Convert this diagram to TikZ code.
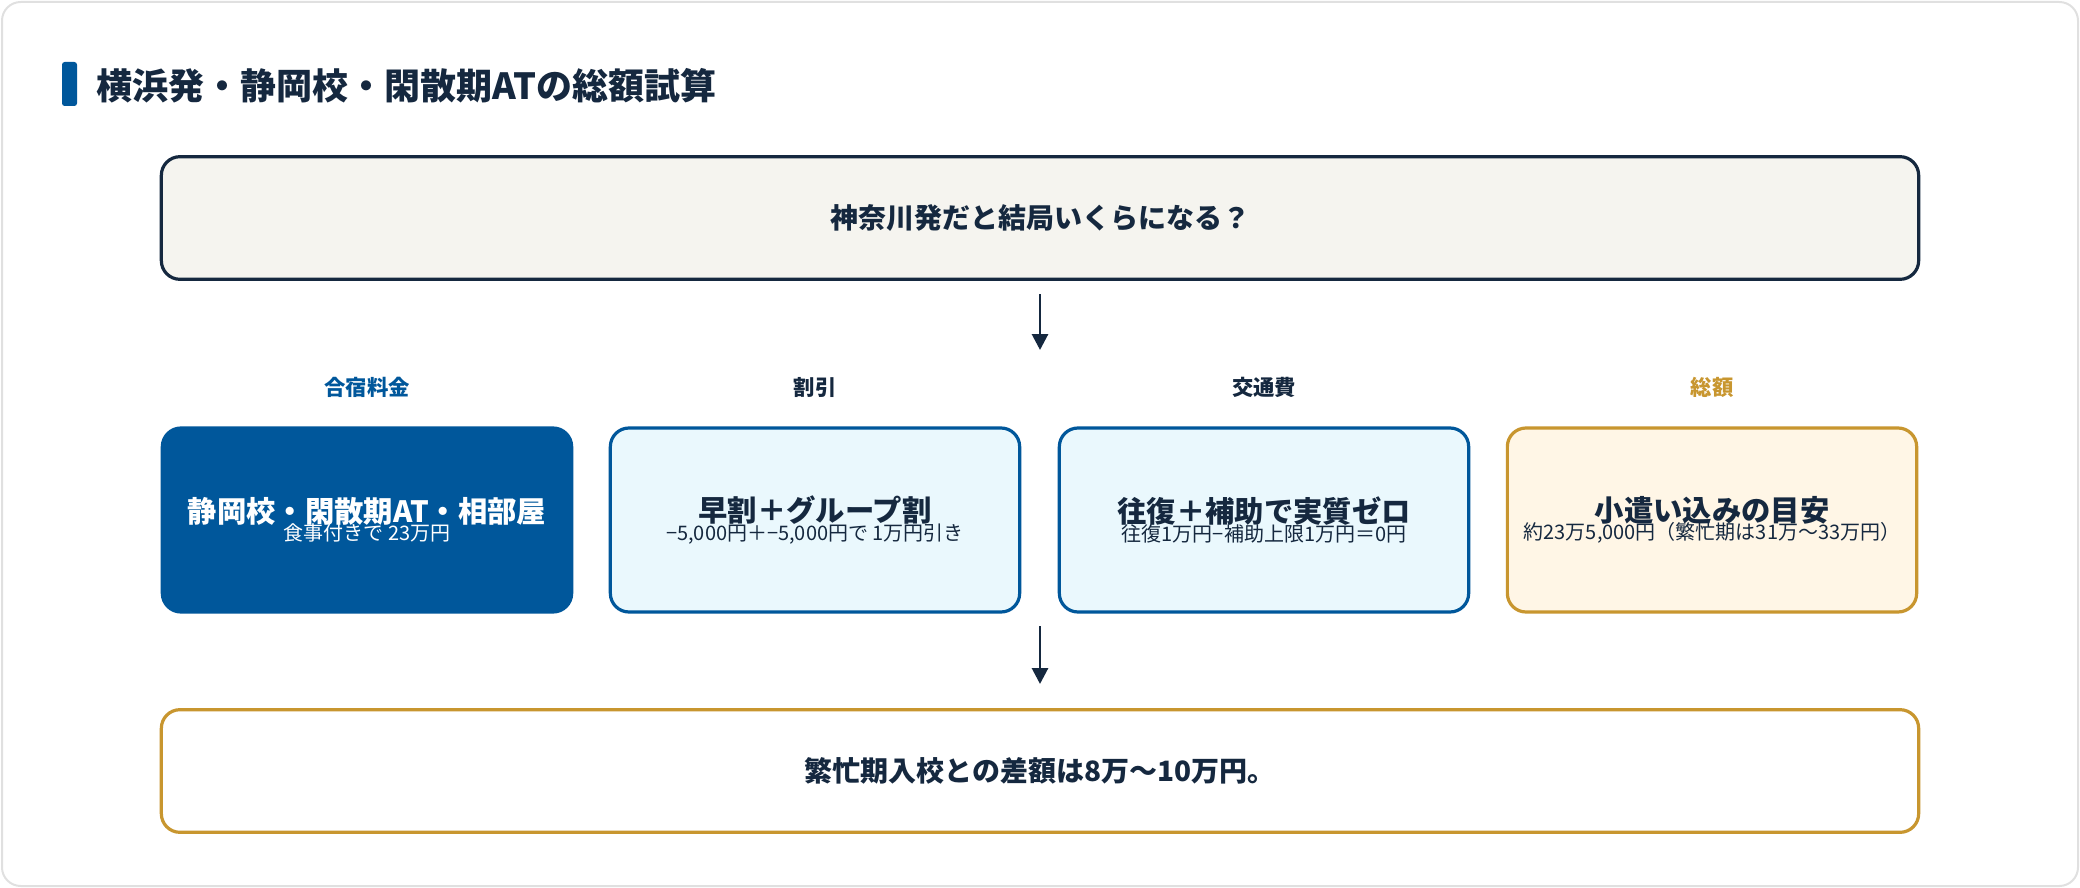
\documentclass[tikz,border=0pt]{standalone}
\usepackage{fontspec}
\setmainfont{Noto Sans CJK JP}
\usetikzlibrary{positioning,arrows.meta}
\definecolor{navy}{HTML}{15283F}
\definecolor{kblue}{HTML}{00579B}
\definecolor{lblue}{HTML}{EAF8FD}
\definecolor{kgold}{HTML}{C8962F}
\definecolor{cream}{HTML}{FFF6E6}
\definecolor{paper}{HTML}{F5F4EF}
\tikzset{box/.style={rounded corners=14pt,line width=2.4pt,minimum height=138pt,minimum width=307pt,inner sep=6pt,text width=292pt,align=center,text=navy}}
\tikzset{colhead/.style={font=\fontsize{16}{19}\selectfont\bfseries}}
\tikzset{flow/.style={-{Triangle[width=12pt,length=12pt]},line width=2.2pt,draw=navy}}
\begin{document}
\begin{tikzpicture}[x=0.75pt,y=-0.75pt]
\draw[draw=black!12,line width=1.5pt,rounded corners=14pt,fill=white] (2,2) rectangle (2078,886);
\useasboundingbox (0,0) rectangle (2080,888);
\fill[kblue,rounded corners=2pt] (62,62) rectangle (77,106);
\node[anchor=west,text=navy,font=\fontsize{27}{32}\selectfont\bfseries] (title) at (92,86) {横浜発・静岡校・閑散期ATの総額試算};

\node[box,draw=navy,fill=paper,minimum width=1318pt,minimum height=92pt,text width=1300pt,font=\fontsize{21}{25}\selectfont\bfseries] (q) at (1040,218) {神奈川発だと結局いくらになる？};

\node[box,draw=kblue,fill=kblue,text=white] (b1) at (367,520) {{\fontsize{22}{36}\selectfont\bfseries 静岡校・閑散期AT・相部屋}\\[-2pt]{\fontsize{15}{24}\selectfont 食事付きで 23万円}};
\node[box,draw=kblue,fill=lblue] (b2) at (815,520) {{\fontsize{22}{36}\selectfont\bfseries 早割＋グループ割}\\[-2pt]{\fontsize{15}{26}\selectfont −5,000円＋−5,000円で 1万円引き}};
\node[box,draw=kblue,fill=lblue] (b3) at (1264,520) {{\fontsize{22}{36}\selectfont\bfseries 往復＋補助で実質ゼロ}\\[-2pt]{\fontsize{15}{24}\selectfont 往復1万円−補助上限1万円＝0円}};
\node[box,draw=kgold,fill=cream] (b4) at (1712,520) {{\fontsize{22}{36}\selectfont\bfseries 小遣い込みの目安}\\[-2pt]{\fontsize{15}{26}\selectfont 約23万5,000円（繁忙期は31万〜33万円）}};

\node[colhead,text=kblue,above=18pt of b1] (c1) {合宿料金};
\node[colhead,text=navy,above=18pt of b2] (c2) {割引};
\node[colhead,text=navy,above=18pt of b3] (c3) {交通費};
\node[colhead,text=kgold,above=18pt of b4] (c4) {総額};

\node[box,draw=kgold,fill=white,minimum width=1318pt,minimum height=92pt,text width=1300pt,font=\fontsize{21}{25}\selectfont\bfseries] (r) at (1040,771) {繁忙期入校との差額は8万〜10万円。};

\coordinate (a1) at (1040,294);
\coordinate (a2) at (1040,350);
\coordinate (a3) at (1040,626);
\coordinate (a4) at (1040,684);
\draw[flow] (a1) -- (a2);
\draw[flow] (a3) -- (a4);
\end{tikzpicture}
\end{document}
